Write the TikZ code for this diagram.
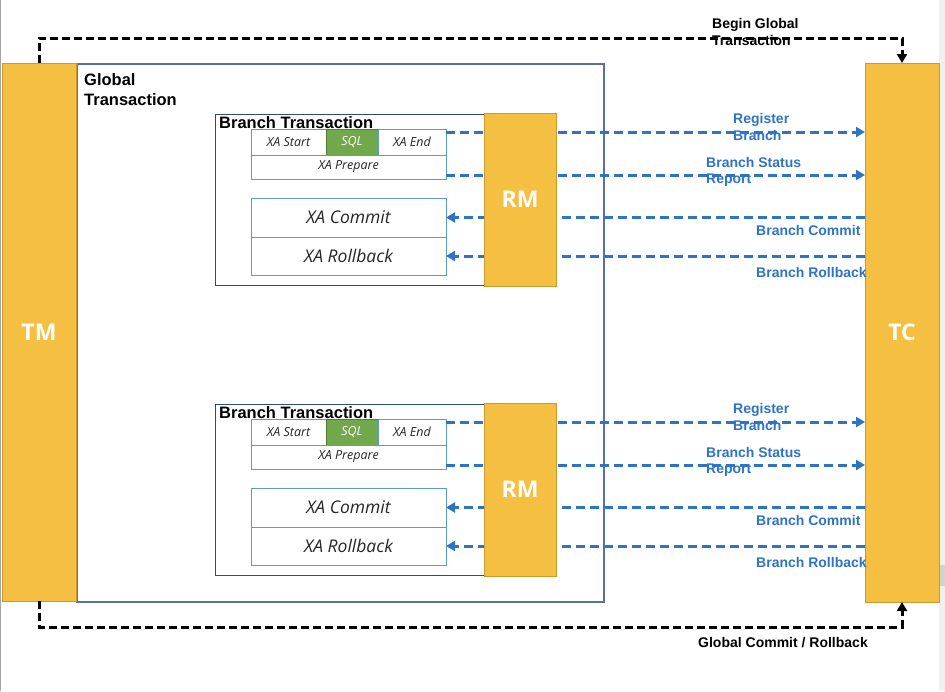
\documentclass[tikz,border=0pt]{standalone}
\usepackage{fontspec}
\setmainfont{Liberation Sans}
\newfontfamily\xafont{Open Sans}
\usetikzlibrary{arrows.meta}

\definecolor{agentfill}{HTML}{F5BF42}
\definecolor{agentedge}{HTML}{C99A2E}
\definecolor{flowblue}{HTML}{2E73C4}
\definecolor{cellblue}{HTML}{5B9BD5}
\definecolor{sqlgreen}{HTML}{70A84B}
\definecolor{sqledge}{HTML}{4E7F30}
\definecolor{globaledge}{HTML}{5A6FA5}
\definecolor{branchedge}{HTML}{2E4A82}

\tikzset{
  agent/.style={draw=agentedge, fill=agentfill, line width=1pt, inner sep=0pt, outer sep=0pt, anchor=north west, text=white, font=\xafont\bfseries\fontsize{23}{23}\selectfont},
  cell/.style={draw=cellblue, fill=white, line width=1pt, inner sep=0pt, outer sep=0pt, anchor=north west, text=black!85, font=\xafont\itshape\fontsize{12.5}{12.5}\selectfont},
  bigcell/.style={cell, font=\xafont\itshape\fontsize{17.5}{17.5}\selectfont},
  sqlcell/.style={cell, draw=sqledge, fill=sqlgreen, text=white},
  tcflow/.style={flowblue, line width=3pt, dash pattern=on 9pt off 5pt, -{Triangle[length=9pt,width=10pt]}},
  ctrlflow/.style={black, line width=3pt, dash pattern=on 8pt off 4pt, -{Triangle[length=9pt,width=10pt]}},
  flowlabel/.style={text=flowblue, font=\bfseries\fontsize{14}{16.5}\selectfont, align=left, inner sep=0pt, anchor=north west},
  ctrllabel/.style={font=\bfseries\fontsize{14}{17}\selectfont, align=left, inner sep=0pt, anchor=north west},
  boxtitle/.style={font=\bfseries\fontsize{16.5}{20}\selectfont, align=left, inner sep=0pt},
}

\begin{document}
\begin{tikzpicture}[x=1pt,y=-1pt]
\useasboundingbox (0,0) rectangle (945,691);
% screen edges
\fill[gray!12] (939,0) rectangle (945,691);
\fill[gray!35] (940,565) rectangle (945,586);
\draw[gray!70, line width=1pt] (0.5,0) -- (0.5,691);

% global transaction
\node[draw=globaledge, line width=1.5pt, inner sep=0pt, anchor=north west, minimum width=527pt, minimum height=538pt] (gt) at (76,63) {};
\node[boxtitle, anchor=north west] (gtl) at (84,73) {Global\\Transaction};

\node[agent, minimum width=74pt, minimum height=538pt] (tm) at (2,63) {TM};
\node[agent, minimum width=74pt, minimum height=539pt] (tc) at (865,63) {TC};

% two branches
\foreach \b/\dy in {1/0,2/290}{
  \node[draw=branchedge, line width=1.2pt, inner sep=0pt, anchor=north west, minimum width=269pt, minimum height=171pt] (bt\b) at (215,114+\dy) {};
  \node[boxtitle, anchor=base west] (btl\b) at (219,128+\dy) {Branch Transaction};
  \node[cell, minimum width=75pt, minimum height=26pt] (start\b) at (251,129+\dy) {XA Start};
  \node[sqlcell, minimum width=52pt, minimum height=26pt] (sql\b) at (326,129+\dy) {SQL};
  \node[cell, minimum width=68pt, minimum height=26pt] (end\b) at (378,129+\dy) {XA End};
  \node[cell, minimum width=195pt, minimum height=24pt] (prep\b) at (251,155+\dy) {XA Prepare};
  \node[bigcell, minimum width=195pt, minimum height=39pt] (commit\b) at (251,198+\dy) {XA Commit};
  \node[bigcell, minimum width=195pt, minimum height=38pt] (rollback\b) at (251,237+\dy) {XA Rollback};

  \node[flowlabel] (regl\b) at (733,113.5+\dy) {Register\\Branch};
  \node[flowlabel] (statl\b) at (706,157+\dy) {Branch Status\\Report};
  \node[flowlabel] (coml\b) at (756,225+\dy) {Branch Commit};
  \node[flowlabel] (rbl\b) at (756,267.5+\dy) {Branch Rollback};

  \coordinate (reg\b) at ([yshift=-3pt]end\b.north east);
  \coordinate (stat\b) at ([yshift=4pt]prep\b.south east);
  \draw[tcflow] (reg\b) -- (reg\b -| tc.west);
  \draw[tcflow] (stat\b) -- (stat\b -| tc.west);
  \draw[tcflow] (commit\b.east -| tc.west) -- (commit\b.east);
  \draw[tcflow] (rollback\b.east -| tc.west) -- (rollback\b.east);

  \node[agent, minimum width=72pt, minimum height=173pt] (rm\b) at (484,113+\dy) {RM};
}

% begin and end of the global transaction
\node[ctrllabel] (begl) at (712,18) {Begin Global\\Transaction};
\node[ctrllabel] (endl) at (698,637) {Global Commit / Rollback};
\draw[ctrlflow] (tm.north) -- ++(0,-25) -| (tc.north);
\draw[ctrlflow] (tm.south) -- ++(0,26) -| (tc.south);
\end{tikzpicture}
\end{document}
